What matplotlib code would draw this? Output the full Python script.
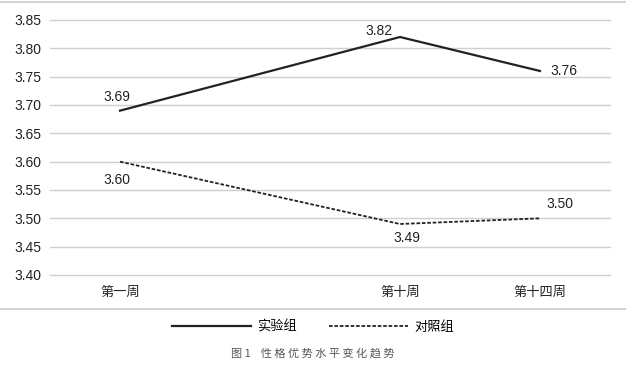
import matplotlib
matplotlib.use("Agg")
import matplotlib.pyplot as plt
from matplotlib.lines import Line2D

plt.rcParams['font.family'] = ['Liberation Sans', 'Noto Sans CJK SC']

categories = ["第一周", "", "第十周", "第十四周"]
positions = [0, 2, 3]
shiyan = [3.69, 3.82, 3.76]
duizhao = [3.60, 3.49, 3.50]
yticks = [3.40, 3.45, 3.50, 3.55, 3.60, 3.65, 3.70, 3.75, 3.80, 3.85]

W, H = 626, 367
fig = plt.figure(figsize=(W / 100, H / 100), dpi=100)
ax = fig.add_axes([50 / W, 92 / H, 560 / W, 255 / H])

ax.plot(positions, shiyan, color="#222222", lw=1.6, label="实验组")
ax.plot(positions, duizhao, color="#222222", lw=1.3, ls=(0, (2, 1)), label="对照组")

ax.set_xlim(-0.5, 3.5)
ax.set_ylim(3.40, 3.85)
ax.set_yticks(yticks)
ax.set_yticklabels(["%.2f" % v for v in yticks], fontsize=10, color="#222222")
ax.set_xticks(range(len(categories)))
ax.set_xticklabels(categories, fontsize=9.5, family=['Noto Sans CJK SC'], color="#222222")
ax.tick_params(length=0)
ax.tick_params(axis="y", pad=6)
ax.tick_params(axis="x", pad=8)
ax.grid(axis="y", color="#cfcfcf", lw=1)
for gl in ax.get_ygridlines():
    gl.set_clip_on(False)
ax.set_axisbelow(True)
for s in ax.spines.values():
    s.set_visible(False)

# data labels
lab_kw = dict(fontsize=10, color="#222222", ha="center", va="center")
ax.annotate("%.2f" % shiyan[0], (positions[0], shiyan[0]), xytext=(-2, 10), textcoords="offset points", **lab_kw)
ax.annotate("%.2f" % shiyan[1], (positions[1], shiyan[1]), xytext=(-15, 4), textcoords="offset points", **lab_kw)
ax.annotate("%.2f" % shiyan[2], (positions[2], shiyan[2]), xytext=(17, 0), textcoords="offset points", **lab_kw)
ax.annotate("%.2f" % duizhao[0], (positions[0], duizhao[0]), xytext=(-2, -13), textcoords="offset points", **lab_kw)
ax.annotate("%.2f" % duizhao[1], (positions[1], duizhao[1]), xytext=(5, -10), textcoords="offset points", **lab_kw)
ax.annotate("%.2f" % duizhao[2], (positions[2], duizhao[2]), xytext=(14, 10), textcoords="offset points", **lab_kw)

# separator lines
fig.add_artist(Line2D([0, 1], [1 - 2 / H, 1 - 2 / H], color="#cccccc", lw=1.2))
fig.add_artist(Line2D([0, 1], [1 - 309 / H, 1 - 309 / H], color="#cccccc", lw=1.2))

handles = [Line2D([], [], color="#222222", lw=1.6),
           Line2D([], [], color="#222222", lw=1.3, ls=(0, (2, 1)))]
fig.legend(handles, ["实验组", "对照组"], loc="center", bbox_to_anchor=(0.5, 1 - 327 / H),
           ncol=2, frameon=False, handlelength=6.0, columnspacing=2.4, handletextpad=0.5,
           prop={'family': 'Noto Sans CJK SC', 'size': 9.5})

fig.text(313 / W, 1 - 353 / H, "图 1    性 格 优 势 水 平 变 化 趋 势", ha="center", va="center",
         fontsize=8, color="#555555", family=['Noto Sans CJK SC'])

fig.savefig("out.png", dpi=100)
